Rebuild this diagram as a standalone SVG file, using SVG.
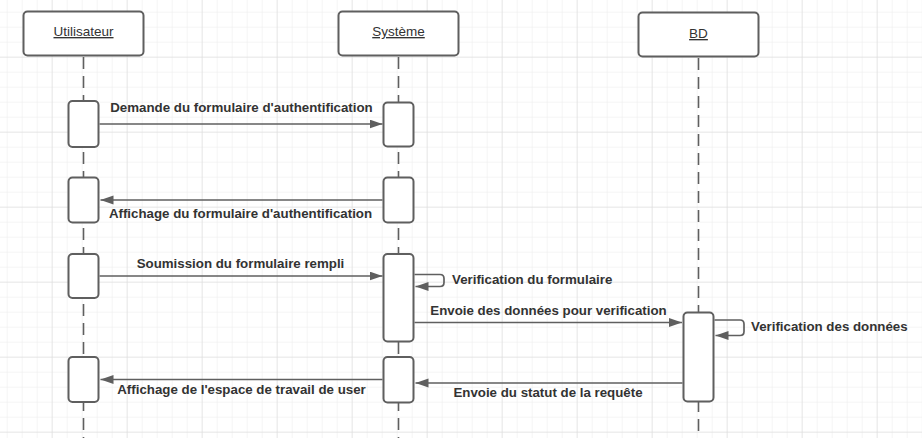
<svg xmlns="http://www.w3.org/2000/svg" width="922" height="438" viewBox="0 0 922 438">
<style>
.box{fill:#ffffff;stroke:#5f5f5f;stroke-width:2}
.life{stroke:#5f5f5f;stroke-width:1.6;stroke-dasharray:12 7;fill:none}
.msg{stroke:#5f5f5f;stroke-width:1.7;fill:none}
.hdr{font-family:"Liberation Sans",Arial,sans-serif;font-size:13.5px;fill:#333333;text-anchor:middle;text-decoration:underline}
.lbl{font-family:"Liberation Sans",Arial,sans-serif;font-size:13.3px;font-weight:bold;fill:#333333}
.mid{text-anchor:middle}
</style>
<defs>
<pattern id="minor" x="6.67" y="11.67" width="15" height="15" patternUnits="userSpaceOnUse">
<path d="M0,0 H15 M0,0 V15" stroke="#ebebeb" stroke-width="1" fill="none"/>
</pattern>
<pattern id="major" x="51.67" y="56.67" width="75" height="75" patternUnits="userSpaceOnUse">
<path d="M0,0 H75 M0,0 V75" stroke="#dadada" stroke-width="1" fill="none"/>
</pattern>
<marker id="arr" markerUnits="userSpaceOnUse" markerWidth="14" markerHeight="10" refX="13" refY="4.5" orient="auto">
<path d="M0,0 L13,4.5 L0,9 z" fill="#5f5f5f"/>
</marker>
</defs>
<rect width="922" height="438" fill="#ffffff"/>
<rect width="922" height="438" fill="url(#minor)"/>
<rect width="922" height="438" fill="url(#major)"/>

<g id="lifelines">
<line class="life" x1="83.5" y1="57" x2="83.5" y2="438"/>
<line class="life" x1="398.5" y1="57" x2="398.5" y2="438"/>
<line class="life" x1="698.5" y1="58" x2="698.5" y2="438"/>
</g>

<g id="utilisateur">
<rect class="box" x="23.5" y="11.5" width="120" height="44" rx="4"/>
<text class="hdr" x="83.5" y="36">Utilisateur</text>
</g>
<g id="systeme">
<rect class="box" x="338.5" y="11.5" width="120" height="44" rx="4"/>
<text class="hdr" x="398.5" y="36">Système</text>
</g>
<g id="bd">
<rect class="box" x="638.5" y="12.5" width="120" height="44" rx="4"/>
<text class="hdr" x="698.5" y="38">BD</text>
</g>

<g id="activations">
<rect class="box" x="68.5" y="101" width="30" height="46" rx="4"/>
<rect class="box" x="68.5" y="177.5" width="30" height="45" rx="4"/>
<rect class="box" x="68.5" y="254" width="30" height="44" rx="4"/>
<rect class="box" x="68.5" y="357" width="30" height="45" rx="4"/>
<rect class="box" x="383.5" y="102.5" width="30" height="44" rx="4"/>
<rect class="box" x="383.5" y="177.5" width="30" height="45" rx="4"/>
<rect class="box" x="383.5" y="254" width="30" height="87.5" rx="4"/>
<rect class="box" x="383.5" y="357" width="30" height="45.5" rx="4"/>
<rect class="box" x="683.5" y="312.5" width="30" height="89" rx="4"/>
</g>

<g id="connectors">
<line class="msg" x1="99.5" y1="124" x2="382.5" y2="124" marker-end="url(#arr)"/>
<line class="msg" x1="382.5" y1="200" x2="100.5" y2="200" marker-end="url(#arr)"/>
<line class="msg" x1="99.5" y1="276" x2="382.5" y2="276" marker-end="url(#arr)"/>
<path class="msg" d="M414.5,274.5 H440 Q444,274.5 444,278.5 V282.5 Q444,286.5 440,286.5 H415.5" marker-end="url(#arr)"/>
<line class="msg" x1="414.5" y1="322.5" x2="682" y2="322.5" marker-end="url(#arr)"/>
<path class="msg" d="M714.5,320 H740 Q744,320 744,324 V331.5 Q744,335.5 740,335.5 H715.5" marker-end="url(#arr)"/>
<line class="msg" x1="682.5" y1="383" x2="415.5" y2="383" marker-end="url(#arr)"/>
<line class="msg" x1="382.5" y1="379.5" x2="100.5" y2="379.5" marker-end="url(#arr)"/>
</g>

<g id="labels">
<text class="lbl mid" x="241.5" y="112">Demande du formulaire d'authentification</text>
<text class="lbl mid" x="240.5" y="218">Affichage du formulaire d'authentification</text>
<text class="lbl mid" x="240.5" y="268">Soumission du formulaire rempli</text>
<text class="lbl" x="452" y="284">Verification du formulaire</text>
<text class="lbl mid" x="548.5" y="315">Envoie des données pour verification</text>
<text class="lbl" x="751" y="330.5">Verification des données</text>
<text class="lbl mid" x="548" y="396.5">Envoie du statut de la requête</text>
<text class="lbl mid" x="241.5" y="393.5">Affichage de l'espace de travail de user</text>
</g>
</svg>
